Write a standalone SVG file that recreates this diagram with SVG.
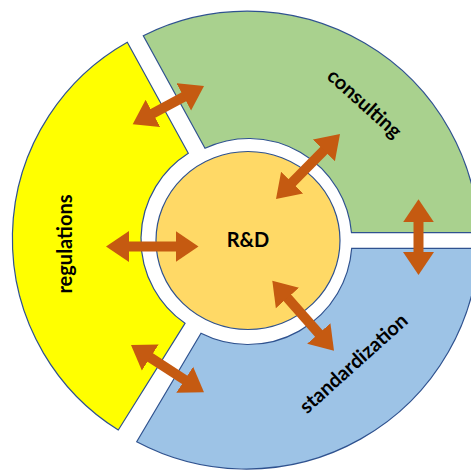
<svg xmlns="http://www.w3.org/2000/svg" width="471" height="473" viewBox="0 0 471 473">
<style>
.seg{stroke:#2F528F;stroke-width:1.2}
.lbl{font-family:Lato,"Liberation Sans",sans-serif;font-weight:bold;font-size:20px;fill:#000;text-anchor:middle}
.arr{stroke:#C55A11;stroke-width:10;fill:none}
</style>
<defs>
<marker id="ah" viewBox="0 -16 24 32" refX="1" refY="0" markerWidth="24" markerHeight="32" markerUnits="userSpaceOnUse" orient="auto-start-reverse">
<path d="M0,-15.5 L23,0 L0,15.5 z" fill="#C55A11"/>
</marker>
</defs>
<rect width="471" height="473" fill="#fff"/>
<g id="consulting">
<path class="seg" fill="#A9D18E" d="M143.3,35.7 A232,232 0 0 1 478.9,232.7 L351.5,232.7 A103,103 0 0 0 205,148.3 Z"/>
<text class="lbl" transform="translate(364,104) rotate(42)" y="6">consulting</text>
</g>
<g id="standardization">
<path class="seg" fill="#9DC3E6" d="M351.7,248.3 L478.9,248.3 A233,233 0 0 1 136.7,441.7 L201,333.3 A104,104 0 0 0 351.7,248.3 Z"/>
<text class="lbl" transform="translate(354,364) rotate(-42)" y="6">standardization</text>
</g>
<g id="regulations">
<path class="seg" fill="#FFFF00" d="M127.3,42.3 L188.3,153.3 A102,102 0 0 0 185,323.3 L118.3,430 A225.5,225.5 0 0 1 127.3,42.3 Z"/>
<text class="lbl" transform="translate(72,244) rotate(-90)">regulations</text>
</g>
<g id="rnd">
<ellipse class="seg" cx="248" cy="240.5" rx="92" ry="89" fill="#FFD966"/>
<text class="lbl" x="248" y="247">R&amp;D</text>
</g>
<g id="connectors">
<line class="arr" x1="152.08" y1="113.89" x2="184.62" y2="96.41" marker-start="url(#ah)" marker-end="url(#ah)"/>
<line class="arr" x1="291.43" y1="183.32" x2="324.57" y2="149.68" marker-start="url(#ah)" marker-end="url(#ah)"/>
<line class="arr" x1="128" y1="246.5" x2="176.5" y2="246.5" marker-start="url(#ah)" marker-end="url(#ah)"/>
<line class="arr" x1="418.5" y1="221.3" x2="418.5" y2="253" marker-start="url(#ah)" marker-end="url(#ah)"/>
<line class="arr" x1="286.85" y1="297.2" x2="319.45" y2="334.2" marker-start="url(#ah)" marker-end="url(#ah)"/>
<line class="arr" x1="149.46" y1="356.96" x2="185.54" y2="380.34" marker-start="url(#ah)" marker-end="url(#ah)"/>
</g>
</svg>
